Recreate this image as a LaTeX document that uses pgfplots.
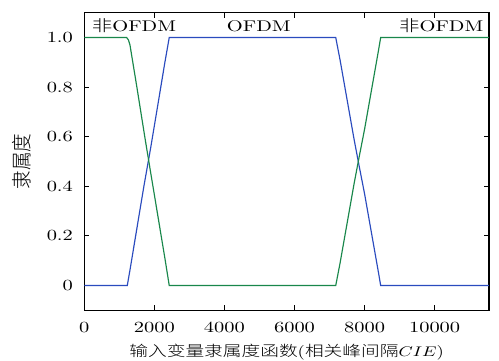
\documentclass[border=0pt]{standalone}
\usepackage{fontspec}
\usepackage{pgfplots}
\pgfplotsset{compat=1.18}
\newfontfamily\cjk{Noto Sans CJK SC}[UprightFont=* Light]
\definecolor{mblue}{RGB}{42,75,190}
\definecolor{mgreen}{RGB}{25,135,75}
\begin{document}
\begin{tikzpicture}
\begin{axis}[
  scale only axis, width=261pt, height=192pt,
  xmin=0, xmax=11550, ymin=-0.1, ymax=1.1,
  scaled x ticks=false,
  xtick={0,2000,4000,6000,8000,10000},
  xticklabels={0,2000,4000,6000,8000,10000},
  ytick={0,0.2,0.4,0.6,0.8,1.0},
  yticklabels={0,0.2,0.4,0.6,0.8,1.0},
  tick align=inside,
  xtick pos=both, ytick pos=both,
  xticklabel pos=lower, yticklabel pos=left,
  axis line style={line width=1pt},
  major tick length=3.2pt,
  every tick/.style={black, line width=0.6pt},
  xticklabel style={yshift=-3.8pt, xscale=1.32},
  yticklabel style={xshift=-2.7pt, xscale=1.32},
  xlabel={{\cjk 输入变量隶属度函数}({\cjk 相关峰间隔}$CIE$)},
  ylabel={{\cjk 隶属度}},
  xlabel style={at={(axis description cs:0.5,0)}, anchor=base, yshift=-29.9pt, xscale=1.27, font=\fontsize{9.5}{11}\selectfont},
  ylabel style={at={(axis description cs:-0.155,0.5)}, anchor=center, yscale=1.1, font=\fontsize{12}{14}\selectfont},
]
\addplot[mblue, line width=0.75pt] coordinates {
 (0,0) (1226,0) (1300,0.06) (1500,0.23) (1700,0.40) (1900,0.56) (2100,0.73) (2300,0.90) (2424,1)
 (7177,1) (7300,0.91) (7500,0.75) (7700,0.59) (7841,0.485) (8000,0.37) (8200,0.21) (8400,0.05) (8460,0) (11550,0)
};
\addplot[mgreen, line width=0.75pt] coordinates {
 (0,1) (1209,1) (1260,0.99) (1303,0.97) (1500,0.80) (1731,0.595) (1900,0.45) (2100,0.28) (2300,0.11) (2424,0)
 (7177,0) (7300,0.09) (7500,0.25) (7700,0.41) (7841,0.515) (8000,0.63) (8200,0.79) (8400,0.95) (8460,1) (11550,1)
};
\node[anchor=base, font=\fontsize{10}{12}\selectfont, xscale=1.32] at (axis cs:1417,1.024) {{\cjk 非}OFDM};
\node[anchor=base, font=\fontsize{10}{12}\selectfont, xscale=1.32] at (axis cs:4981,1.024) {OFDM};
\node[anchor=base, font=\fontsize{10}{12}\selectfont, xscale=1.32] at (axis cs:10191,1.024) {{\cjk 非}OFDM};
\end{axis}
\pgfresetboundingbox
\path ([shift={(-54.4pt,-32.5pt)}]current axis.south west) rectangle ([shift={(6.5pt,8.2pt)}]current axis.north east);
\end{tikzpicture}
\end{document}
